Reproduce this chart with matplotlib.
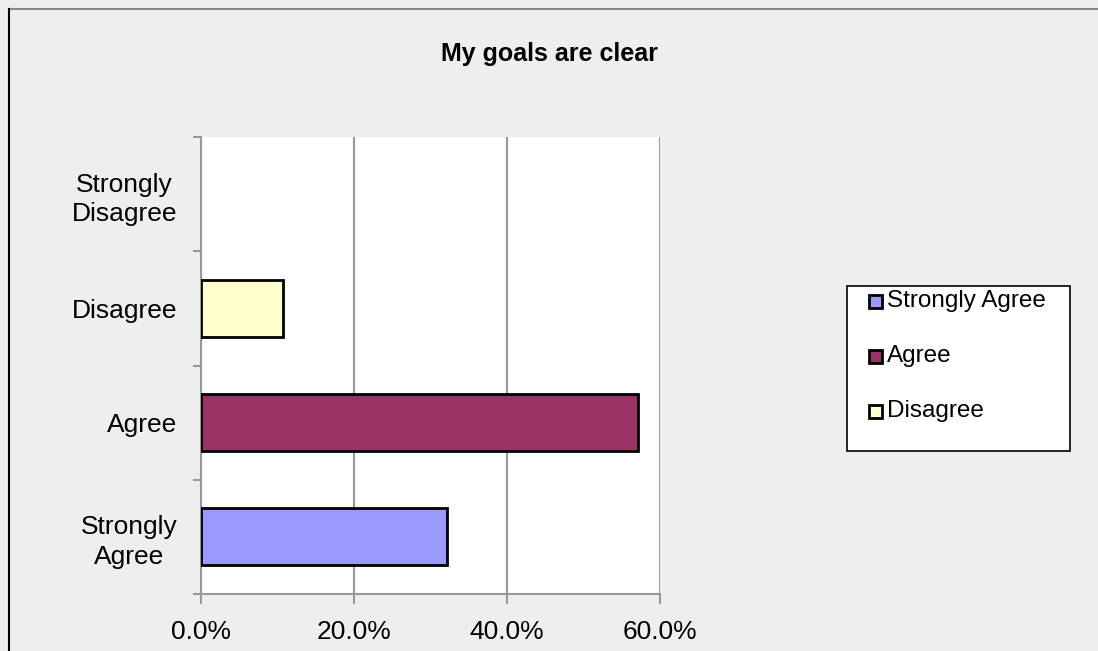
import matplotlib
matplotlib.use("Agg")
import matplotlib.pyplot as plt
from matplotlib.patches import Rectangle
from matplotlib.lines import Line2D
from matplotlib.ticker import FuncFormatter

categories = ["Strongly\nAgree", "Agree", "Disagree", "Strongly\nDisagree"]
series_names = ["Strongly Agree", "Agree", "Disagree"]
values = [32.1, 57.1, 10.7, 0.0]
bar_colors = ["#9999FF", "#993366", "#FFFFCC", "#FFFFFF"]
x_ticks = [0, 20, 40, 60]
title = "My goals are clear"

plt.rcParams['font.family'] = ['Liberation Sans', 'DejaVu Sans']
W, H = 1098, 651
fig = plt.figure(figsize=(W / 100, H / 100), dpi=100)
fig.patch.set_facecolor("#EEEEEE")

ax = fig.add_axes([201 / W, 1 - 594 / H, (660 - 201) / W, (594 - 137) / H])
ax.set_facecolor("white")

pos = list(range(len(categories)))
for p, v, c in zip(pos, values, bar_colors):
    if v > 0:
        ax.barh(p, v, height=0.5, color=c, edgecolor="black", linewidth=2, zorder=3)

ax.set_xlim(0, 60)
ax.set_ylim(-0.5, len(categories) - 0.5)
ax.set_xticks(x_ticks)
ax.xaxis.set_major_formatter(FuncFormatter(lambda v, _: f"{v:.1f}%"))
ax.grid(axis="x", color="#999999", linewidth=1.5, zorder=1)
ax.set_yticks(pos)
ax.set_yticklabels(categories, multialignment="center", linespacing=1.28)
ax.set_yticks([p - 0.5 for p in pos] + [len(categories) - 0.5], minor=True)
ax.tick_params(axis="y", which="major", length=0, pad=17, labelsize=19)
ax.tick_params(axis="y", which="minor", length=6, width=1.5, color="#999999")
ax.tick_params(axis="x", which="major", length=7, width=1.5, color="#999999", pad=12, labelsize=19)

for s in ["top", "right"]:
    ax.spines[s].set_visible(False)
for s in ["left", "bottom"]:
    ax.spines[s].set_color("#999999")
    ax.spines[s].set_linewidth(1.5)

fig.text(549 / W, 1 - 54 / H, title, ha="center", va="center", fontsize=18, fontweight="bold")

# legend (drawn in figure pixel coordinates)
lx0, ly0, lx1, ly1 = 847, 286, 1070, 451
fig.add_artist(Rectangle((lx0 / W, 1 - ly1 / H), (lx1 - lx0) / W, (ly1 - ly0) / H,
                         transform=fig.transFigure, facecolor="white", edgecolor="black", linewidth=1.2))
entry_y = [300, 355, 410]
sq = 13
for name, c, ey in zip(series_names, bar_colors[:3], entry_y):
    fig.add_artist(Rectangle((869 / W, 1 - (ey + 1 + sq / 2) / H), sq / W, sq / H,
                             transform=fig.transFigure, facecolor=c, edgecolor="black", linewidth=2))
    fig.text(887 / W, 1 - (ey + 1) / H, name, ha="left", va="center", fontsize=17.5)

fig.add_artist(Line2D([9 / W, 1], [1 - 9 / H, 1 - 9 / H], color="#888888", linewidth=1.5))
fig.add_artist(Line2D([9 / W, 9 / W], [0, 1 - 9 / H], color="black", linewidth=1.5))

fig.savefig("out.png", dpi=100, facecolor=fig.get_facecolor())
